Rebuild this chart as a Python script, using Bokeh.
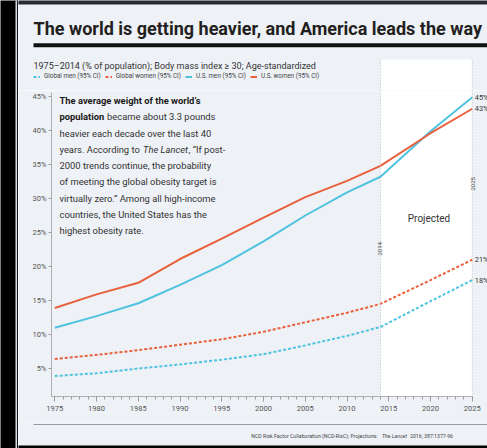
import math
from bokeh.plotting import figure
from bokeh.layouts import row, column
from bokeh.models import (Range1d, Label, Span, BoxAnnotation, Legend, LegendItem,
                          FixedTicker, PrintfTickFormatter)
from bokeh.embed import file_html
from bokeh.resources import INLINE

# ---------------- data ----------------
years = [1975, 1980, 1985, 1990, 1995, 2000, 2005, 2010, 2014, 2020, 2025]
global_men = [3.9, 4.3, 5.0, 5.6, 6.3, 7.1, 8.4, 9.8, 11.1, 14.9, 18.0]
global_women = [6.4, 7.0, 7.7, 8.5, 9.3, 10.4, 11.8, 13.2, 14.5, 18.0, 21.0]
us_men = [11.0, 12.7, 14.6, 17.3, 20.2, 23.7, 27.5, 30.9, 33.2, 39.9, 44.9]
us_women = [13.9, 15.9, 17.6, 21.1, 24.1, 27.2, 30.2, 32.6, 34.8, 39.6, 43.2]
series_labels = ["Global men (95% CI)", "Global women (95% CI)",
                 "U.S. men (95% CI)", "U.S. women (95% CI)"]
projection_start = 2014
projection_end = 2025
y_ticks = [5, 10, 15, 20, 25, 30, 35, 40, 45]
x_ticks = [1975, 1980, 1985, 1990, 1995, 2000, 2005, 2010, 2015, 2020, 2025]
x_minor = list(range(1975, 2026))

title_text = "The world is getting heavier, and America leads the way"
subtitle_text = "1975\u20132014 (% of population); Body mass index \u2265 30; Age-standardized"

# ---------------- styling ----------------
BLUE = "#4ec3e0"
RED = "#e8603c"
BG = "#eef1f6"
FONT = "Roboto"
STRIP_W = 18
W = 487 - STRIP_W          # grey panel column width
HEAD_H, MAIN_H, FOOT_H = 90, 332, 26


def X(rx):
    # reference-pixel x -> year
    return 1975 + (rx - 54.3) / 8.35


def Y(ry):
    # reference-pixel y -> percent
    return (402 - ry) / 6.8


def bare(width, height, xr, yr, bg):
    f = figure(width=width, height=height, output_backend="svg", toolbar_location=None,
               x_range=xr, y_range=yr, x_axis_type=None, y_axis_type=None,
               min_border=0, background_fill_color=bg, border_fill_color=bg,
               outline_line_color=None, frame_align=False)
    f.grid.visible = False
    return f


def label(fig, t, x, y, size, style="normal", color="#333333", align="left",
          baseline="alphabetic", angle=0.0, font=FONT, x_offset=0):
    fig.add_layout(Label(x=x, y=y, text=t, text_font=font, text_font_size=size,
                         text_font_style=style, text_color=color, text_align=align,
                         text_baseline=baseline, angle=angle, x_offset=x_offset))


# ---------------- left black strip ----------------
strip = bare(STRIP_W, HEAD_H + MAIN_H + FOOT_H, Range1d(0, STRIP_W), Range1d(0, 1), "black")
strip.add_layout(Span(location=15.8, dimension="height", line_color="#d8dde6", line_width=1.6))

# ---------------- header ----------------
head = bare(W, HEAD_H, Range1d(X(STRIP_W), X(487)), Range1d(HEAD_H, 0), BG)
head.add_layout(BoxAnnotation(left=X(STRIP_W) - 1, right=X(487) + 1, top=-1, bottom=4,
                              fill_color="#262a33", fill_alpha=1, line_color=None))
head.quad(left=[projection_start], right=[projection_end], bottom=[HEAD_H], top=[59],
          fill_color="white", line_color=None)
head.segment(x0=[projection_start, projection_end], y0=[59, 59],
             x1=[projection_start, projection_end], y1=[HEAD_H, HEAD_H],
             line_color="#b8b8b8", line_dash="1 2", line_width=1)
head.add_layout(BoxAnnotation(left=X(33), right=X(487) + 1, top=42.8, bottom=46.8,
                              fill_color="#111111", fill_alpha=1, line_color=None))
label(head, title_text, X(33), 28.3, "18px", style="bold", color="#231f20")
label(head, subtitle_text, X(33), 65, "9px", color="#333333")

h_renderers = []
for vals, col, dash in ((global_men, BLUE, "3 2"), (global_women, RED, "3 2"),
                        (us_men, BLUE, "solid"), (us_women, RED, "solid")):
    r = head.line(years, vals, line_color=col, line_width=2, line_dash=dash)
    r.visible = False
    h_renderers.append(r)
legend = Legend(items=[LegendItem(label=series_labels[i], renderers=[r])
                       for i, r in enumerate(h_renderers)],
                orientation="horizontal", location=(15, 10), margin=0, padding=0,
                glyph_width=7, glyph_height=7, label_height=7, label_standoff=4,
                spacing=4, label_text_font=FONT, label_text_font_size="6.3px",
                label_text_color="#444444", border_line_color=None,
                background_fill_alpha=0, inactive_fill_alpha=0)
head.add_layout(legend, "center")

# ---------------- main chart ----------------
p = figure(width=W, height=MAIN_H, output_backend="svg", toolbar_location=None,
           x_range=Range1d(X(51), X(487)), y_range=Range1d(Y(396), Y(90)),
           min_border_left=51 - STRIP_W, min_border_right=0, min_border_top=0,
           min_border_bottom=26, frame_align=False,
           background_fill_color=BG, border_fill_color=BG, outline_line_color=None)
p.grid.visible = False

p.quad(left=[projection_start], right=[projection_end],
       bottom=[p.y_range.start], top=[p.y_range.end],
       fill_color="white", line_color=None)
for loc in (projection_start, projection_end):
    p.add_layout(Span(location=loc, dimension="height", line_color="#b8b8b8",
                      line_dash="1 2", line_width=1))

p.line(years, global_men, line_color=BLUE, line_width=2, line_dash="3 2")
p.line(years, global_women, line_color=RED, line_width=2, line_dash="3 2")
p.line(years, us_men, line_color=BLUE, line_width=2)
p.line(years, us_women, line_color=RED, line_width=2)

xa = p.xaxis[0]
xa.ticker = FixedTicker(ticks=x_ticks, minor_ticks=x_minor)
xa.bounds = (X(51), projection_end)
ya = p.yaxis[0]
ya.ticker = FixedTicker(ticks=y_ticks)
ya.formatter = PrintfTickFormatter(format="%d%%")
ya.bounds = (Y(396), 45.6)
for ax in (xa, ya):
    ax.axis_line_color = "#b0b0b0"
    ax.major_tick_line_color = "#9a9a9a"
    ax.minor_tick_line_color = "#9a9a9a"
    ax.major_label_text_font = FONT
    ax.major_label_text_color = "#555555"
    ax.major_label_text_font_size = "7.5px"
    ax.major_tick_in = 0
    ax.minor_tick_in = 0
xa.major_tick_out = 5
xa.minor_tick_out = 3
xa.major_label_standoff = 4
ya.major_tick_out = 3
ya.minor_tick_line_color = None
ya.major_label_standoff = 2

# annotation text block
LB = [100 + 16.25 * i for i in range(9)]
BODY = "9.4px"
DARK = "#1a1a1a"
label(p, "The average weight of the world\u2019s", X(59), Y(LB[0]), BODY, style="bold", color=DARK)
label(p, "population", X(59), Y(LB[1]), BODY, style="bold", color=DARK)
label(p, "became about 3.3 pounds", X(106.5), Y(LB[1]), BODY)
label(p, "heavier each decade over the last 40", X(59), Y(LB[2]), BODY)
label(p, "years. According to", X(59), Y(LB[3]), BODY)
label(p, "The Lancet", X(142.5), Y(LB[3]), BODY, style="italic")
label(p, ", \u201cIf post-", X(188), Y(LB[3]), BODY)
label(p, "2000 trends continue, the probability", X(59), Y(LB[4]), BODY)
label(p, "of meeting the global obesity target is", X(59), Y(LB[5]), BODY)
label(p, "virtually zero.\u201d Among all high-income", X(59), Y(LB[6]), BODY)
label(p, "countries, the United States has the", X(59), Y(LB[7]), BODY)
label(p, "highest obesity rate.", X(59), Y(LB[8]), BODY)

label(p, "Projected", X(428.5), Y(217.7), "10px", align="center")
label(p, str(projection_start), projection_start, Y(248.3), "6px", color="#555555",
      align="center", baseline="middle", angle=math.pi / 2)
label(p, str(projection_end), projection_end, Y(183.3), "6px", color="#555555",
      align="center", baseline="middle", angle=math.pi / 2, x_offset=1)

for vals in (us_men, us_women, global_women, global_men):
    label(p, f"{round(vals[-1])}%", years[-1], vals[-1], "7.3px", baseline="middle",
          x_offset=2.5)

# ---------------- footer ----------------
foot = bare(W, FOOT_H, Range1d(STRIP_W, 487), Range1d(448, 422), BG)
foot.add_layout(BoxAnnotation(left=33, right=488, top=423.6, bottom=424.6,
                              fill_color="#9a9a9a", fill_alpha=1, line_color=None))
foot.add_layout(BoxAnnotation(left=STRIP_W - 1, right=488, top=445, bottom=449,
                              fill_color="black", fill_alpha=1, line_color=None))
SRC = "5.2px"
label(foot, "NCD Risk Factor Collaboration (NCD-RisC); Projections:", 250.7, 435.2, SRC, color="#444444")
label(foot, "The Lancet", 381.5, 435.2, SRC, style="italic", color="#444444")
label(foot, "2016; 387:1377-96", 409.5, 435.2, SRC, color="#444444")

layout = row(strip, column(head, p, foot, spacing=0), spacing=0)
open("out.html", "w").write(file_html(layout, INLINE, "obesity"))
